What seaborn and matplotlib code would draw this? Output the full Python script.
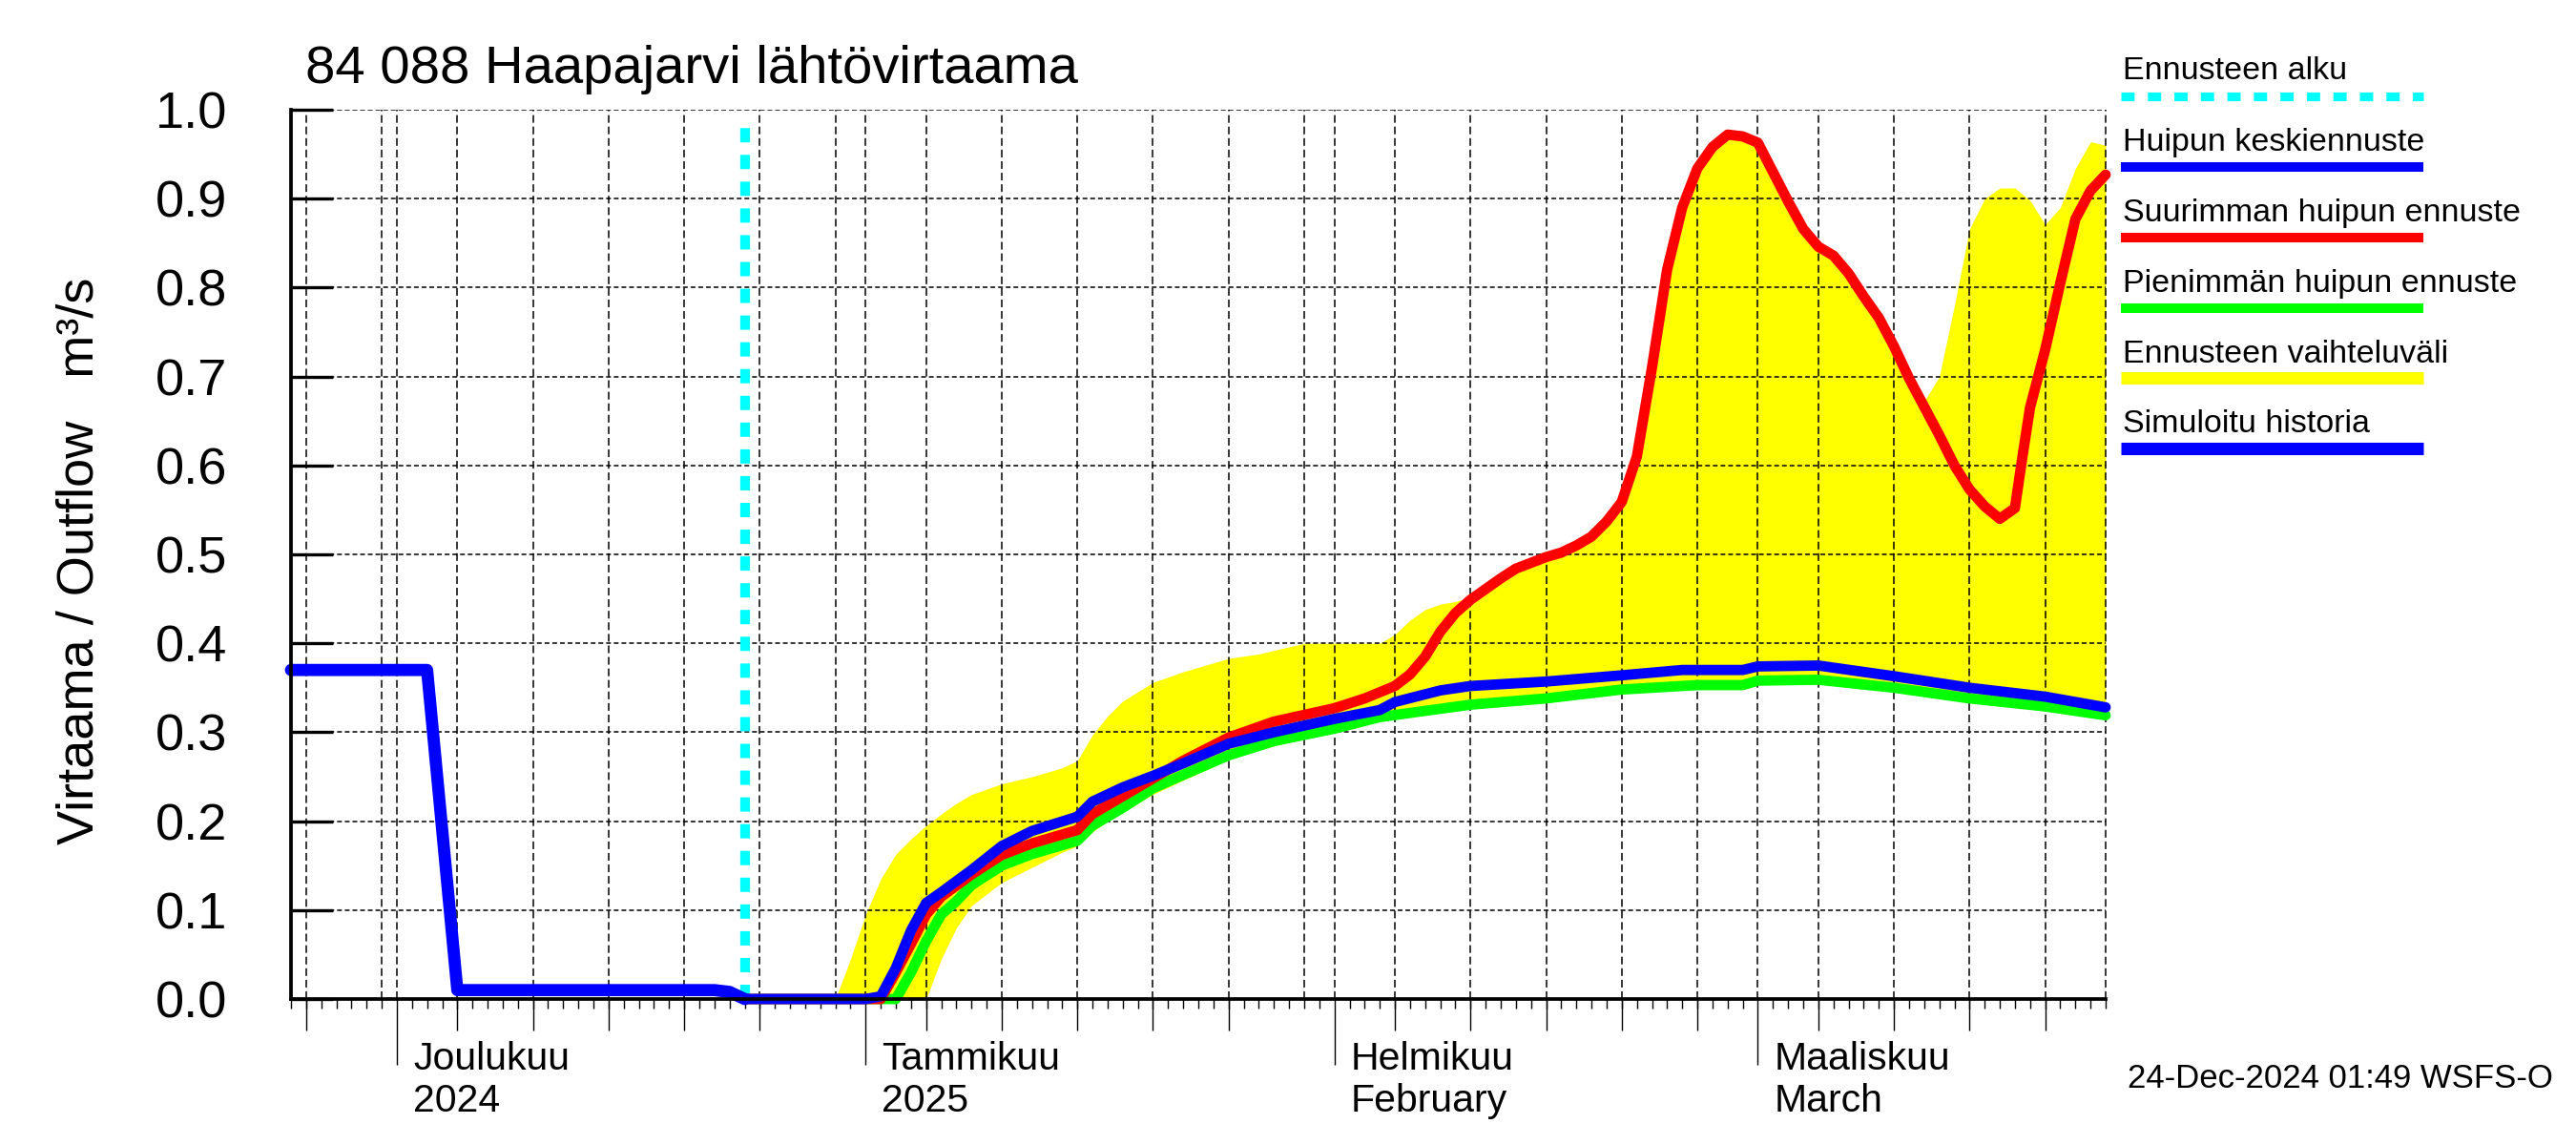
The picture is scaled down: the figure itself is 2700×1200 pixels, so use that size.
import pandas as pd
import numpy as np
import matplotlib
matplotlib.use("Agg")
import matplotlib.pyplot as plt
import matplotlib.dates as mdates
import matplotlib.ticker as mticker
import matplotlib.transforms as mtransforms
from matplotlib.lines import Line2D
import seaborn as sns

# --- data ---
x_start = "2024-11-24"
x_end = "2025-03-24"
forecast_start = "2024-12-24"

# simulated history (blue, before forecast start)
hist_dates = ["2024-11-24", "2024-12-03", "2024-12-05", "2024-12-22", "2024-12-23", "2024-12-24"]
hist_flow = [0.37, 0.37, 0.01, 0.01, 0.008, 0.0]

# mean peak forecast (blue)
mean_dates = ["2024-12-24", "2025-01-01", "2025-01-02", "2025-01-03", "2025-01-04", "2025-01-05",
              "2025-01-06", "2025-01-08", "2025-01-10", "2025-01-12", "2025-01-15", "2025-01-16",
              "2025-01-18", "2025-01-20", "2025-01-22", "2025-01-25", "2025-01-28", "2025-02-01",
              "2025-02-04", "2025-02-05", "2025-02-08", "2025-02-10", "2025-02-15", "2025-02-20",
              "2025-02-24", "2025-02-28", "2025-03-01", "2025-03-05", "2025-03-10", "2025-03-15",
              "2025-03-20", "2025-03-24"]
mean_flow = [0.0, 0.0, 0.003, 0.035, 0.077, 0.108,
             0.12, 0.145, 0.172, 0.189, 0.205, 0.222,
             0.238, 0.251, 0.265, 0.287, 0.30, 0.315,
             0.325, 0.334, 0.347, 0.352, 0.357, 0.364,
             0.37, 0.37, 0.374, 0.375, 0.363, 0.35,
             0.34, 0.328]

# highest peak forecast (red)
max_dates = ["2024-12-24", "2025-01-02", "2025-01-03", "2025-01-04", "2025-01-05", "2025-01-06",
             "2025-01-08", "2025-01-10", "2025-01-12", "2025-01-15", "2025-01-16", "2025-01-18",
             "2025-01-20", "2025-01-22", "2025-01-25", "2025-01-28", "2025-02-01", "2025-02-03",
             "2025-02-05", "2025-02-06", "2025-02-07", "2025-02-08", "2025-02-09", "2025-02-10",
             "2025-02-12", "2025-02-13", "2025-02-15", "2025-02-16", "2025-02-17", "2025-02-18",
             "2025-02-19", "2025-02-20", "2025-02-21", "2025-02-22", "2025-02-23", "2025-02-24",
             "2025-02-25", "2025-02-26", "2025-02-27", "2025-02-28", "2025-03-01", "2025-03-02",
             "2025-03-03", "2025-03-04", "2025-03-05", "2025-03-06", "2025-03-07", "2025-03-08",
             "2025-03-09", "2025-03-10", "2025-03-11", "2025-03-12", "2025-03-13", "2025-03-14",
             "2025-03-15", "2025-03-16", "2025-03-17", "2025-03-18", "2025-03-18 12:00", "2025-03-19",
             "2025-03-20", "2025-03-21", "2025-03-22", "2025-03-23", "2025-03-24"]
max_flow = [0.0, 0.0, 0.03, 0.062, 0.095, 0.115,
            0.14, 0.162, 0.175, 0.19, 0.208, 0.228,
            0.248, 0.268, 0.294, 0.312, 0.327, 0.338,
            0.352, 0.365, 0.385, 0.413, 0.434, 0.449,
            0.473, 0.484, 0.497, 0.502, 0.51, 0.52,
            0.537, 0.559, 0.61, 0.71, 0.82, 0.89,
            0.934, 0.958, 0.972, 0.97, 0.963, 0.93,
            0.897, 0.866, 0.846, 0.836, 0.816, 0.79,
            0.766, 0.734, 0.698, 0.666, 0.634, 0.60,
            0.573, 0.554, 0.54, 0.552, 0.61, 0.665,
            0.73, 0.805, 0.877, 0.909, 0.927]

# lowest peak forecast (green)
min_dates = ["2024-12-24", "2025-01-03", "2025-01-04", "2025-01-05", "2025-01-06", "2025-01-07",
             "2025-01-08", "2025-01-10", "2025-01-12", "2025-01-15", "2025-01-16", "2025-01-18",
             "2025-01-20", "2025-01-22", "2025-01-25", "2025-01-28", "2025-02-01", "2025-02-04",
             "2025-02-10", "2025-02-15", "2025-02-20", "2025-02-25", "2025-02-28", "2025-03-01",
             "2025-03-05", "2025-03-10", "2025-03-15", "2025-03-20", "2025-03-24"]
min_flow = [0.0, 0.0, 0.03, 0.065, 0.095, 0.11,
            0.128, 0.15, 0.163, 0.178, 0.195, 0.215,
            0.237, 0.252, 0.274, 0.29, 0.304, 0.317,
            0.331, 0.338, 0.348, 0.353, 0.353, 0.358,
            0.359, 0.35, 0.338, 0.329, 0.319]

# forecast range (yellow band)
band_dates = ["2024-12-24", "2024-12-30", "2024-12-31",
              "2025-01-01", "2025-01-02", "2025-01-03", "2025-01-04", "2025-01-05", "2025-01-06",
              "2025-01-07", "2025-01-08", "2025-01-10", "2025-01-12", "2025-01-14", "2025-01-15",
              "2025-01-16", "2025-01-17", "2025-01-18", "2025-01-20", "2025-01-22", "2025-01-25",
              "2025-01-27", "2025-01-30",
              "2025-02-01", "2025-02-04", "2025-02-05", "2025-02-06", "2025-02-07", "2025-02-08",
              "2025-02-09", "2025-02-10", "2025-02-12", "2025-02-14", "2025-02-16", "2025-02-18",
              "2025-02-19", "2025-02-20", "2025-02-21", "2025-02-22", "2025-02-23", "2025-02-24",
              "2025-02-25", "2025-02-26", "2025-02-27", "2025-02-28",
              "2025-03-01", "2025-03-02", "2025-03-03", "2025-03-04", "2025-03-05", "2025-03-06",
              "2025-03-07", "2025-03-08", "2025-03-09", "2025-03-10", "2025-03-11", "2025-03-12",
              "2025-03-13", "2025-03-14", "2025-03-15", "2025-03-16", "2025-03-17", "2025-03-18",
              "2025-03-19", "2025-03-20", "2025-03-21", "2025-03-22", "2025-03-23", "2025-03-24"]
band_high = [0.0, 0.0, 0.045,
             0.095, 0.135, 0.163, 0.18, 0.195, 0.208,
             0.22, 0.23, 0.242, 0.25, 0.26, 0.268,
             0.297, 0.318, 0.335, 0.356, 0.368, 0.383,
             0.388, 0.40,
             0.40, 0.40, 0.41, 0.426, 0.438, 0.444,
             0.447, 0.452, 0.475, 0.49, 0.503, 0.52,
             0.537, 0.559, 0.61, 0.71, 0.82, 0.89,
             0.934, 0.958, 0.972, 0.97,
             0.963, 0.93, 0.897, 0.866, 0.846, 0.836,
             0.816, 0.79, 0.766, 0.734, 0.698, 0.672,
             0.70, 0.78, 0.866, 0.90, 0.912, 0.912,
             0.898, 0.871, 0.89, 0.934, 0.964, 0.96]
band_low = [0.0, 0.0, 0.0,
            0.0, 0.0, 0.0, 0.0, 0.0, 0.045,
            0.08, 0.105, 0.131, 0.148, 0.165, 0.172,
            0.188, 0.2, 0.21, 0.23, 0.246, 0.269,
            0.28, 0.294,
            0.30, 0.313, 0.316, 0.318, 0.32, 0.322,
            0.325, 0.327, 0.33, 0.333, 0.336, 0.34,
            0.342, 0.344, 0.345, 0.346, 0.347, 0.348,
            0.349, 0.349, 0.349, 0.349,
            0.354, 0.355, 0.355, 0.355, 0.355, 0.353,
            0.352, 0.35, 0.348, 0.346, 0.344, 0.341,
            0.339, 0.336, 0.334, 0.332, 0.33, 0.329,
            0.327, 0.325, 0.323, 0.321, 0.318, 0.315]

month_starts = ["2024-12-01", "2025-01-01", "2025-02-01", "2025-03-01"]
month_line1 = ["Joulukuu", "Tammikuu", "Helmikuu", "Maaliskuu"]
month_line2 = ["2024", "2025", "February", "March"]

legend_labels = ["Ennusteen alku", "Huipun keskiennuste", "Suurimman huipun ennuste",
                 "Pienimmän huipun ennuste", "Ennusteen vaihteluväli", "Simuloitu historia"]
legend_colors = ["#00ffff", "#0000ff", "#ff0000", "#00ff00", "#ffff00", "#0000ff"]


def to_dt(values):
    return pd.to_datetime(values, format="mixed")


# --- style ---
sns.set_style("white")
plt.rcParams["font.family"] = ["Liberation Sans", "DejaVu Sans"]
plt.rcParams["lines.scale_dashes"] = False
plt.rcParams["text.color"] = "black"
plt.rcParams["xtick.color"] = "black"
plt.rcParams["ytick.color"] = "black"

W, H = 2700, 1200
fig = plt.figure(figsize=(27, 12), dpi=100)
ax_l, ax_r, ax_t, ax_b = 305, 2207, 115, 1047
ax = fig.add_axes([ax_l / W, 1 - ax_b / H, (ax_r - ax_l) / W, (ax_b - ax_t) / H])

# yellow range
ax.fill_between(to_dt(band_dates), band_low, band_high, color="#ffff00", lw=0, zorder=1)

# grid
for v in np.arange(0.1, 1.01, 0.1):
    ax.axhline(v, color="black", lw=1.1, ls=(0, (3.6, 2.2)), zorder=1.5)
all_days = pd.date_range(x_start, x_end)
grid_days = all_days[all_days.day.isin([1, 5, 10, 15, 20, 25, 30])]
for d in grid_days:
    ax.axvline(d, color="black", lw=1.1, ls=(0, (5.8, 2.9)), zorder=1.5)
ax.axvline(pd.Timestamp(x_end), color="black", lw=1.1, ls=(0, (5.8, 2.9)), zorder=1.5, clip_on=False)

# forecast start
ax.axvline(pd.Timestamp(forecast_start), ymin=0, ymax=0.987, color="#00ffff", lw=7.4,
           ls=(0, (10.8, 9.4)), zorder=1.8)

# series
sns.lineplot(x=to_dt(min_dates), y=min_flow, ax=ax, color="#00ff00", lw=7.8, zorder=3, clip_on=False)
sns.lineplot(x=to_dt(max_dates), y=max_flow, ax=ax, color="#ff0000", lw=7.8, zorder=4, clip_on=False)
sns.lineplot(x=to_dt(mean_dates), y=mean_flow, ax=ax, color="#0000ff", lw=7.8, zorder=5, clip_on=False)
sns.lineplot(x=to_dt(hist_dates), y=hist_flow, ax=ax, color="#0000ff", lw=9.2, zorder=5, clip_on=False)

# axes
ax.set_xlim(pd.Timestamp(x_start), pd.Timestamp(x_end))
ax.set_ylim(0, 1.0)
ax.set_xlabel("")
ax.set_ylabel("")
for s in ["top", "right"]:
    ax.spines[s].set_visible(False)
for s in ["left", "bottom"]:
    ax.spines[s].set_linewidth(2.7)
    ax.spines[s].set_color("black")
    ax.spines[s].set_zorder(6)

ax.yaxis.set_major_locator(mticker.MultipleLocator(0.1))
ax.yaxis.set_major_formatter(mticker.FormatStrFormatter("%.1f"))
ax.tick_params(axis="y", left=True, direction="in", length=32, width=2.4, pad=48, labelsize=39,
               colors="black")

ax.xaxis.set_major_locator(mdates.MonthLocator(bymonthday=1))
ax.xaxis.set_minor_locator(mdates.DayLocator())
ax.tick_params(axis="x", which="major", bottom=True, direction="out", length=50, width=1.0,
               labelbottom=False)
ax.tick_params(axis="x", which="minor", bottom=True, direction="out", length=7, width=1.0)

sec = ax.secondary_xaxis("bottom")
sec.xaxis.set_major_locator(mdates.DayLocator(bymonthday=[5, 10, 15, 20, 25]))
sec.tick_params(axis="x", which="major", bottom=True, direction="out", length=24, width=1.0,
                labelbottom=False)
sec.tick_params(axis="x", which="minor", length=0)
sec.spines["bottom"].set_visible(False)

# month labels
off1 = mtransforms.offset_copy(ax.get_xaxis_transform(), fig=fig, x=17, y=-74, units="dots")
off2 = mtransforms.offset_copy(ax.get_xaxis_transform(), fig=fig, x=17, y=-118, units="dots")
for m, l1, l2 in zip(month_starts, month_line1, month_line2):
    ax.text(pd.Timestamp(m), 0, l1, transform=off1, ha="left", va="baseline", fontsize=29.5)
    ax.text(pd.Timestamp(m), 0, l2, transform=off2, ha="left", va="baseline", fontsize=29.5)

# titles and labels
fig.text(320 / W, 1 - 87 / H, "84 088 Haapajarvi lähtövirtaama", fontsize=40.5, ha="left", va="baseline")
fig.text(84 / W, 1 - 588 / H, "Virtaama / Outflow   m³/s", fontsize=39, rotation=90,
         ha="center", va="center")
fig.text(2676 / W, 1 - 1140 / H, "24-Dec-2024 01:49 WSFS-O", fontsize=25, ha="right", va="baseline")

# legend on the right
text_base = [83, 158, 232, 306, 380, 453]
line_y = [101, 175, 249, 323, 396, 470]
line_w = [6.6, 7.2, 7.2, 7.2, 9.4, 9.4]
for i, (lab, col) in enumerate(zip(legend_labels, legend_colors)):
    fig.text(2225 / W, 1 - text_base[i] / H, lab, fontsize=24.5, ha="left", va="baseline")
    ls = (0, (10, 10)) if i == 0 else "-"
    fig.add_artist(Line2D([2223 / W, 2540 / W], [1 - line_y[i] / H, 1 - line_y[i] / H],
                          transform=fig.transFigure, color=col, lw=line_w[i], ls=ls,
                          solid_capstyle="butt", dash_capstyle="butt"))

plt.savefig("out.png", dpi=100)
